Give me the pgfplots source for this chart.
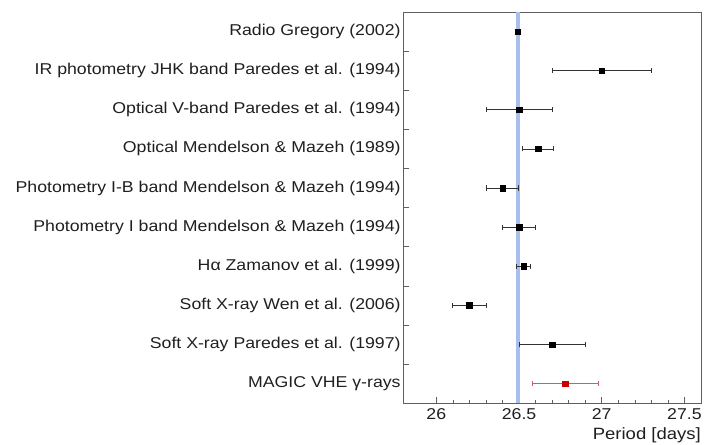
\documentclass[border=0pt]{standalone}
\usepackage{pgfplots}
\pgfplotsset{compat=1.18}
\usepackage{pgfplotstable}
\usepackage{fontspec}
\setmainfont[FakeStretch=1.13]{Liberation Sans}

\definecolor{bandblue}{RGB}{168,190,236}
\definecolor{magicred}{RGB}{200,0,0}
\definecolor{magicbar}{RGB}{214,92,92}
\definecolor{framegray}{RGB}{95,95,95}

% Orbital period measurements: value, half-width of the error bar, row
\pgfplotstableread{
x       ex      y
26.492  0.004   9.5
27.00   0.30    8.5
26.50   0.20    7.5
26.615  0.095   6.5
26.40   0.095   5.5
26.50   0.10    4.5
26.528  0.043   3.5
26.20   0.10    2.5
26.70   0.20    1.5
}\measured

\pgfplotstableread{
x       ex      y
26.78   0.20    0.5
}\magic

\begin{document}
\begin{tikzpicture}
\begin{axis}[
  scale only axis,
  width=299bp, height=393bp,
  xmin=25.8, xmax=27.6,
  ymin=0, ymax=10,
  xtick={26,26.5,27,27.5},
  minor x tick num=4,
  ytick={1,...,9},
  yticklabels={},
  extra y ticks={0.5,1.5,2.5,3.5,4.5,5.5,6.5,7.5,8.5,9.5},
  extra y tick labels={
    {MAGIC VHE γ-rays},
    {Soft X-ray Paredes et al. (1997)},
    {Soft X-ray Wen et al. (2006)},
    {Hα Zamanov et al. (1999)},
    {Photometry I band Mendelson \& Mazeh (1994)},
    {Photometry I-B band Mendelson \& Mazeh (1994)},
    {Optical Mendelson \& Mazeh (1989)},
    {Optical V-band Paredes et al. (1994)},
    {IR photometry JHK band Paredes et al. (1994)},
    {Radio Gregory (2002)}},
  extra y tick style={major tick length=0pt},
  tick pos=left,
  tick align=inside,
  major tick length=6bp,
  minor tick length=3.5bp,
  axis line style={framegray, line width=0.7pt},
  every tick/.style={framegray, line width=0.6pt},
  tick label style={font=\fontsize{15.8}{18}\selectfont, text=black!88},
  yticklabel style={inner sep=2.5bp},
  xticklabel style={yshift=-1.5bp},
  /pgf/number format/assume math mode=true,
  xlabel={Period [days]},
  x label style={at={(axis description cs:1,0)}, anchor=north east,
    inner sep=0pt, yshift=-24bp, font=\fontsize{16.5}{19}\selectfont, text=black!88},
  clip=false,
]
% reference period band
\addplot[draw=none, fill=bandblue] coordinates
  {(26.479,0) (26.507,0) (26.507,10) (26.479,10)} -- cycle;

\addplot[only marks, mark=square*, mark size=2.8bp, black,
  error bars/.cd, x dir=both, x explicit, error mark=|,
  error bar style={line width=0.8pt, black!80},
  error mark options={line width=0.8pt, mark size=2.6bp, black!80}]
  table[x=x, y=y, x error=ex] {\measured};

\addplot[only marks, mark=square*, mark size=2.8bp, magicred,
  error bars/.cd, x dir=both, x explicit, error mark=|,
  error bar style={line width=0.8pt, magicbar},
  error mark options={line width=0.8pt, mark size=2.6bp, magicbar}]
  table[x=x, y=y, x error=ex] {\magic};
\end{axis}
\path ([xshift=-405bp,yshift=-41bp]current axis.south west)
  rectangle ([xshift=1bp,yshift=12bp]current axis.north east);
\end{tikzpicture}
\end{document}
